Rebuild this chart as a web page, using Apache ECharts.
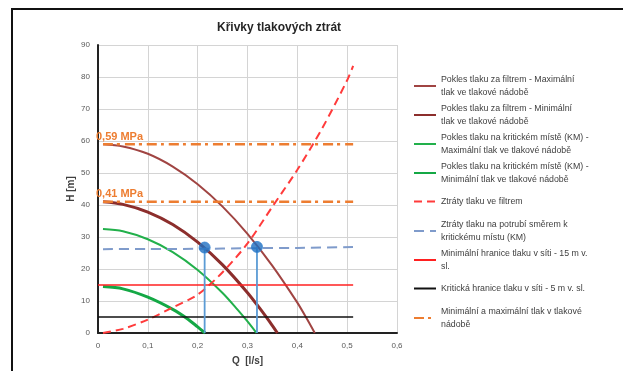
<!DOCTYPE html>
<html>
<head>
<meta charset="utf-8">
<script src="https://cdn.jsdelivr.net/npm/echarts@6/dist/echarts.min.js"></script>
<style>html,body{margin:0;padding:0;background:#fff}#c{width:623px;height:371px}</style>
</head>
<body>
<div id="c"></div>
<script>
// ---- data ----
const legendLabels = [
  'Pokles tlaku za filtrem - Maximální\ntlak ve tlakové nádobě',
  'Pokles tlaku za filtrem - Minimální\ntlak ve tlakové nádobě',
  'Pokles tlaku na kritickém místě (KM) -\nMaximální tlak ve tlakové nádobě',
  'Pokles tlaku na kritickém místě (KM) -\nMinimální tlak ve tlakové nádobě',
  'Ztráty tlaku ve filtrem',
  'Ztráty tlaku na potrubí směrem k\nkritickému místu (KM)',
  'Minimální hranice tlaku v síti - 15 m v.\nsl.',
  'Kritická hranice tlaku v síti - 5 m v. sl.',
  'Minimální a maximální tlak v tlakové\nnádobě'
];
const filterMax = [[0.01,59],[0.05,58.3],[0.1,56],[0.15,52],[0.2,46.5],[0.25,39.5],[0.3,31],[0.35,21],[0.4,9.5],[0.42,4.2],[0.435,0]];
const filterMin = [[0.01,41],[0.05,40.2],[0.1,37.8],[0.15,33.9],[0.2,28.4],[0.25,21.3],[0.3,12.6],[0.33,6.6],[0.345,3.4],[0.36,0]];
const kmMax = [[0.01,32.5],[0.05,31.8],[0.1,29.3],[0.15,25.3],[0.2,19.7],[0.25,12.5],[0.28,7.3],[0.3,3.6],[0.318,0]];
const kmMin = [[0.01,14.5],[0.05,13.8],[0.1,11.2],[0.15,7.4],[0.18,4.4],[0.2,1.9],[0.215,0]];
const filterLoss = [[0.01,0],[0.05,1.3],[0.1,4.2],[0.15,8],[0.2,12],[0.25,19],[0.3,28],[0.35,39.5],[0.4,51],[0.45,64],[0.5,79],[0.512,83.5]];
const pipeLoss = [[0.01,26.2],[0.1,26.25],[0.2,26.3],[0.3,26.5],[0.4,26.6],[0.515,26.9]];
const minLimit = [[0,15],[0.512,15]];
const critLimit = [[0,5],[0.512,5]];
const tankMax = [[0.01,59],[0.512,59]];
const tankMin = [[0.01,41],[0.512,41]];
const tankLabels = ['0,59 MPa','0,41 MPa'];
const tankLabelPoints = [[0.01,59],[0.01,41]];
const workPoints = [[0.214,26.7],[0.319,26.9]];
const drop1 = [[0.214,0],[0.214,26.7]];
const drop2 = [[0.319,0],[0.319,26.9]];
const xTicks = {min:0, max:0.6, interval:0.1};
const yTicks = {min:0, max:90, interval:10};

const FONT = 'Liberation Sans';
const fmt = v => String(+v.toFixed(2)).replace('.', ',');

function lineSeries(name, data, color, width, type, z) {
  return {
    type: 'line', name, data, symbol: 'none', smooth: 0.3, z: z || 2,
    lineStyle: {color, width, type: type || 'solid'},
    itemStyle: {color}, animation: false
  };
}

const centers = [86,115,144,173,202,231,260,289,318];
const legends = legendLabels.map((name, i) => {
  const two = name.indexOf('\n') >= 0;
  return {
    left: 413, top: centers[i] - (two ? 19.5 : 7), padding: 0,
    itemWidth: 22, itemHeight: 14, itemGap: 0, selectedMode: false,
    itemStyle: {opacity: 0},
    textStyle: {fontFamily: FONT, fontSize: 8.8, color: '#404040', lineHeight: 13},
    data: [two ? {name, textStyle: {padding: [13,0,0,0]}} : {name}]
  };
});

const chart = echarts.init(document.getElementById('c'));
chart.setOption({
  animation: false,
  backgroundColor: '#fff',
  title: {
    text: 'Křivky tlakových ztrát', left: 212, top: 17,
    textStyle: {fontFamily: FONT, fontSize: 12, fontWeight: 'bold', color: '#262626'}
  },
  graphic: [{
    type: 'rect', shape: {x: 12, y: 9, width: 700, height: 500},
    style: {fill: 'none', stroke: '#111', lineWidth: 2}, silent: true, z: 100
  }],
  legend: legends,
  grid: {left: 98, right: 226, top: 45, bottom: 32},
  xAxis: {
    type: 'value', min: xTicks.min, max: xTicks.max, interval: xTicks.interval,
    name: 'Q  [l/s]', nameLocation: 'middle', nameGap: 23,
    nameTextStyle: {fontFamily: FONT, fontSize: 10, fontWeight: 'bold', color: '#404040'},
    axisLine: {show: true, lineStyle: {color: '#222', width: 2}},
    axisTick: {show: false},
    axisLabel: {fontFamily: FONT, fontSize: 8, color: '#595959', margin: 9, formatter: fmt},
    splitLine: {show: true, lineStyle: {color: '#d4d4d4', width: 1}}
  },
  yAxis: {
    type: 'value', min: yTicks.min, max: yTicks.max, interval: yTicks.interval,
    name: 'H [m]', nameLocation: 'middle', nameGap: 22,
    nameTextStyle: {fontFamily: FONT, fontSize: 10, fontWeight: 'bold', color: '#404040'},
    axisLine: {show: true, lineStyle: {color: '#222', width: 2}},
    axisTick: {show: false},
    axisLabel: {fontFamily: FONT, fontSize: 8, color: '#595959', margin: 8, formatter: fmt},
    splitLine: {show: true, lineStyle: {color: '#d4d4d4', width: 1}}
  },
  series: [
    lineSeries(legendLabels[0], filterMax, '#A04442', 2),
    lineSeries(legendLabels[1], filterMin, '#8C2E2C', 3),
    lineSeries(legendLabels[2], kmMax, '#22B04B', 2),
    lineSeries(legendLabels[3], kmMin, '#14A845', 3),
    lineSeries(legendLabels[4], filterLoss, '#FF3B3B', 2, [8,5]),
    lineSeries(legendLabels[5], pipeLoss, '#7F9BCB', 2, [10,6]),
    lineSeries(legendLabels[6], minLimit, '#FF2020', 1.5),
    lineSeries(legendLabels[7], critLimit, '#111111', 1.5),
    lineSeries(legendLabels[8], tankMax, '#ED7D31', 2.5, [10,4,3,5]),
    lineSeries(legendLabels[8], tankMin, '#ED7D31', 2.5, [10,4,3,5]),
    {type: 'line', name: 'drop1', data: drop1, symbol: 'none', z: 3,
     lineStyle: {color: '#5B9BD5', width: 1.8}},
    {type: 'line', name: 'drop2', data: drop2, symbol: 'none', z: 3,
     lineStyle: {color: '#5B9BD5', width: 1.8}},
    {type: 'scatter', name: 'points', data: workPoints, symbol: 'circle', symbolSize: 11, z: 5,
     itemStyle: {color: '#1F6FC0', borderColor: '#2F80D0', borderWidth: 1}},
    {type: 'scatter', name: 'tankText', data: tankLabelPoints, symbolSize: 2, z: 6,
     itemStyle: {color: 'rgba(0,0,0,0)'},
     label: {show: true, position: 'top', align: 'left', offset: [-7, 4],
       formatter: p => tankLabels[p.dataIndex], opacity: 1, textBorderWidth: 0,
       fontFamily: FONT, fontSize: 11, fontWeight: 'bold', color: '#ED7D31'}}
  ]
});
</script>
</body>
</html>
